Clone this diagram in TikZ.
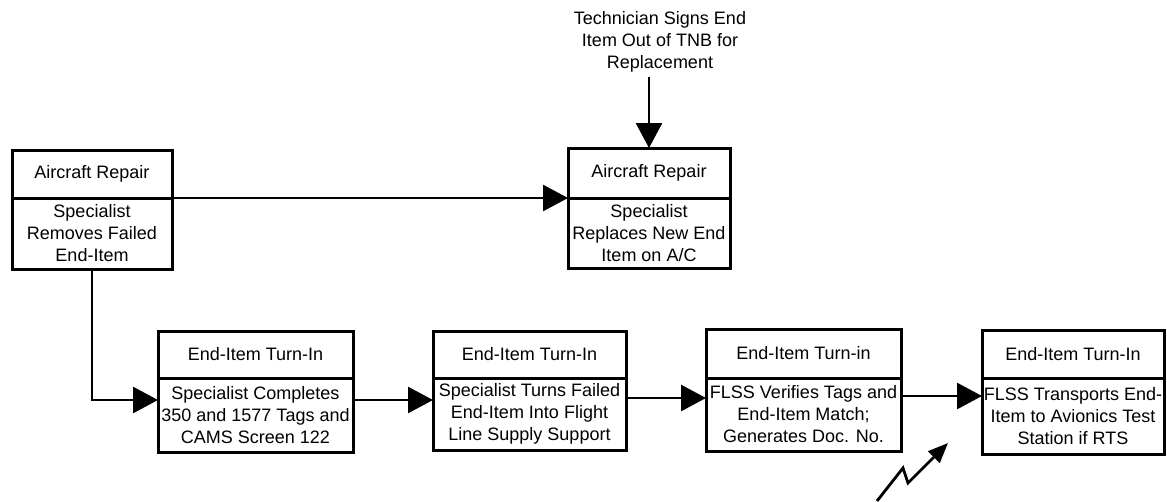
\documentclass[tikz,border=0pt]{standalone}
\usepackage{fontspec}
\setmainfont{Liberation Sans}
\usetikzlibrary{arrows.meta}
\begin{document}
\begin{tikzpicture}[x=1pt,y=-1pt,
  lbl/.style={font=\fontsize{18}{22}\selectfont, align=center, inner sep=0pt},
  part/.style={lbl, draw, line width=3pt, outer sep=0pt},
  arr/.style={line width=2.8pt, -{Triangle[length=25pt,width=26pt]}},
  bolt/.style={line width=2.8pt, -{Triangle[length=20pt,width=16pt]}}]
\useasboundingbox (0,0) rectangle (1167,501);

% Aircraft repair: removal
\node[part, minimum width=160pt, minimum height=48pt] (b1h) at (92,174) {Aircraft Repair};
\node[part, minimum width=160pt, minimum height=71pt] (b1b) at (92,233.5)
  {Specialist\\Removes Failed\\End-Item};

% Aircraft repair: replacement
\node[part, minimum width=162pt, minimum height=50pt] (b2h) at (649,173) {Aircraft Repair};
\node[part, minimum width=162pt, minimum height=70pt] (b2b) at (649,233)
  {Specialist\\Replaces New End\\Item on A/C};

\node[lbl, inner sep=4pt] (tnb) at (660,42)
  {Technician Signs End\\Item Out of TNB for\\Replacement};

% End-item turn-in chain
\node[part, minimum width=195pt, minimum height=47pt] (b3h) at (255.5,354.5) {End-Item Turn-In};
\node[part, minimum width=195pt, minimum height=74pt] (b3b) at (255.5,415)
  {Specialist Completes\\350 and 1577 Tags and\\CAMS Screen 122};

\node[part, minimum width=193pt, minimum height=47pt] (b4h) at (529.5,354.5) {End-Item Turn-In};
\node[part, minimum width=193pt, minimum height=72pt] (b4b) at (529.5,414)
  {Specialist Turns Failed\\End-Item Into Flight\\Line Supply Support};

\node[part, minimum width=195pt, minimum height=49pt] (b5h) at (803.5,353.5) {End-Item Turn-in};
\node[part, minimum width=195pt, minimum height=73pt] (b5b) at (803.5,414.5)
  {FLSS Verifies Tags and\\End-Item Match;\\Generates Doc. No.};

\node[part, minimum width=182pt, minimum height=48pt] (b6h) at (1073,354) {End-Item Turn-In};
\node[part, minimum width=182pt, minimum height=76pt] (b6b) at (1073,416)
  {FLSS Transports End-\\Item to Avionics Test\\Station if RTS};

% Connectors
\draw[arr] (b1h.south east) -- (b2h.south west);
\draw[arr] (b2h.north |- tnb.south) -- (b2h.north);
\draw[arr] (b1b.south) |- ([yshift=15pt]b3b.west);
\draw[arr] ([yshift=15pt]b3b.east) -- ([yshift=15pt]b3b.east -| b4b.west);
\draw[arr] ([yshift=16pt]b4b.east) -- ([yshift=16pt]b4b.east -| b5b.west);
\draw[arr] ([yshift=18.5pt]b5b.east) -- ([yshift=18.5pt]b5b.east -| b6b.west);

% Incoming signal
\coordinate (z0) at (877,501);
\coordinate (z1) at (903,468);
\coordinate (z2) at (908,483);
\coordinate (z3) at (948,443);
\draw[bolt] (z0) -- (z1) -- (z2) -- (z3);
\end{tikzpicture}
\end{document}
